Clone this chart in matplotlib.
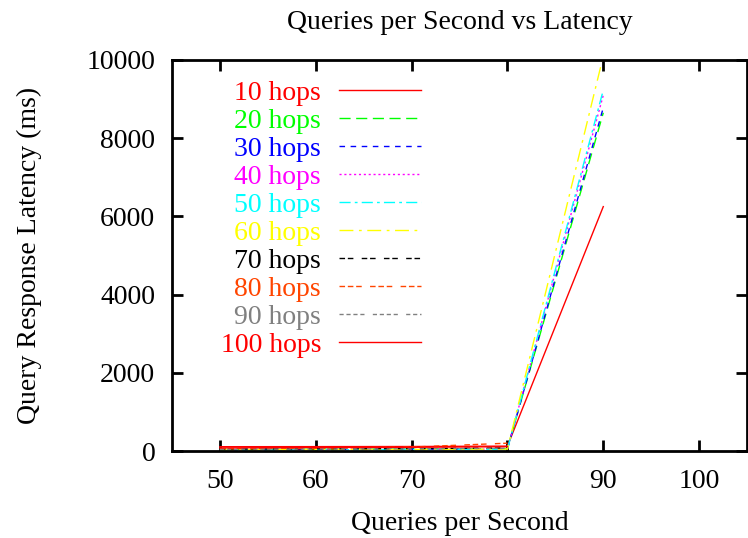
import numpy as np
import matplotlib
matplotlib.use("Agg")
import matplotlib.pyplot as plt

plt.rcParams['font.family'] = ['Liberation Serif', 'DejaVu Serif']

qps = [50, 60, 70, 80, 90]
hops_10 = [110, 112, 115, 125, 6250]
hops_20 = [40, 45, 50, 60, 8650]
hops_30 = [35, 40, 45, 55, 8780]
hops_40 = [30, 35, 40, 50, 9100]
hops_50 = [25, 30, 35, 45, 9230]
hops_60 = [30, 35, 40, 50, 10100]
hops_70 = [50, 55, 60, 80, np.nan]
hops_80 = [60, 70, 100, 200, np.nan]
hops_90 = [45, 50, 55, 70, np.nan]
hops_100 = [80, 90, 95, 110, np.nan]

labels = ["10 hops", "20 hops", "30 hops", "40 hops", "50 hops",
          "60 hops", "70 hops", "80 hops", "90 hops", "100 hops"]
series = [hops_10, hops_20, hops_30, hops_40, hops_50,
          hops_60, hops_70, hops_80, hops_90, hops_100]
colors = ["#ff0000", "#00ff00", "#0000ff", "#ff00ff", "#00ffff",
          "#ffff00", "#000000", "#ff4500", "#808080", "#ff0000"]
styles = ["-", (0, (8, 4)), (0, (4, 4)), (0, (1.5, 2)), (0, (8, 3, 2, 3)),
          (0, (10, 4, 2, 4)), (0, (4, 2, 4, 6)), (0, (4, 2, 4, 2, 4, 6)),
          (0, (3, 2, 3, 2, 3, 2, 3, 6)), "-"]

fig = plt.figure(figsize=(7.48, 5.38), dpi=100)
ax = fig.add_axes([0.230, 0.1617, 0.7687, 0.7268])

for vals, lab, c, ls in zip(series, labels, colors, styles):
    ax.plot(qps, vals, color=c, linestyle=ls, linewidth=1.0, label=lab)

ax.set_xlim(45, 105)
ax.set_ylim(0, 10000)
ax.set_xticks([50, 60, 70, 80, 90, 100])
ax.set_yticks([0, 2000, 4000, 6000, 8000, 10000])
ax.tick_params(direction='in', length=8, width=2, top=True, right=True,
               labelsize=20)
ax.tick_params(axis='y', pad=12)
ax.tick_params(axis='x', pad=13)
for s in ax.spines.values():
    s.set_linewidth(2)

ax.set_title("Queries per Second vs Latency", fontsize=20, pad=22)
ax.set_xlabel("Queries per Second", fontsize=20, labelpad=12)
ax.set_ylabel("Query Response Latency (ms)", fontsize=20, labelpad=32)

leg = ax.legend(loc='upper right', bbox_to_anchor=(0.433, 0.947), frameon=False,
                markerfirst=False, fontsize=20, handlelength=2.95,
                handletextpad=0.65, labelspacing=0.09, borderaxespad=0,
                borderpad=0, labelcolor='linecolor')
for t in leg.get_texts():
    t.set_ha('right')

fig.savefig("out.png", dpi=100)
